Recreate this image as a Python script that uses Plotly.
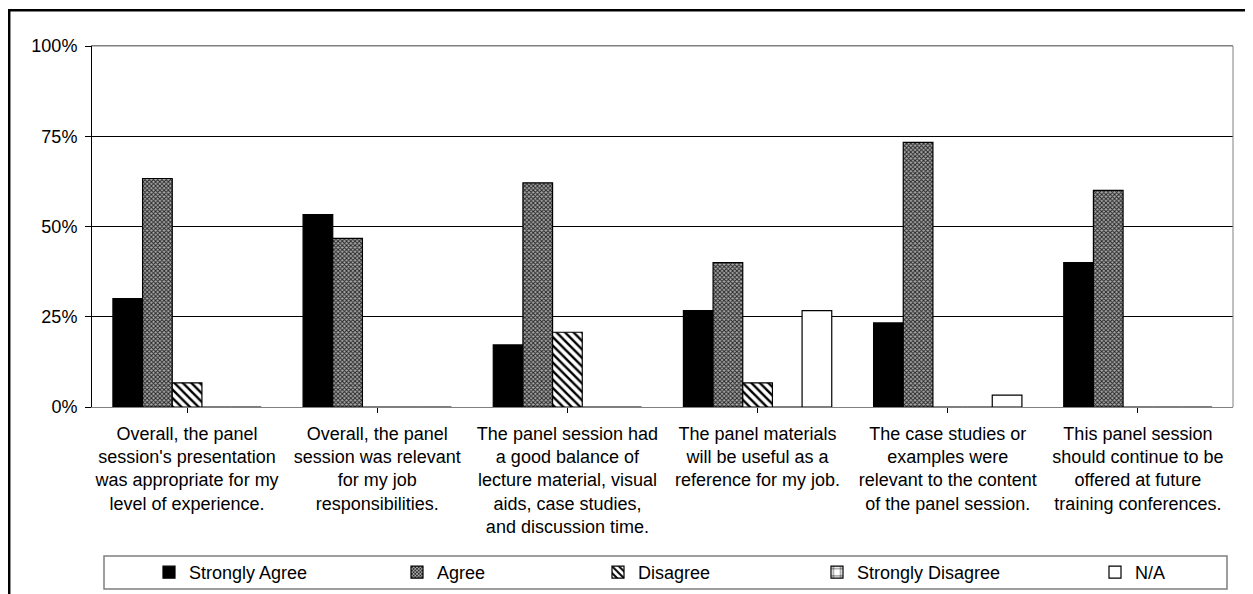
import plotly.graph_objects as go

categories = [
    "Overall, the panel<br>session's presentation<br>was appropriate for my<br>level of experience.",
    "Overall, the panel<br>session was relevant<br>for my job<br>responsibilities.",
    "The panel session had<br>a good balance of<br>lecture material, visual<br>aids, case studies,<br>and discussion time.",
    "The panel materials<br>will be useful as a<br>reference for my job.",
    "The case studies or<br>examples were<br>relevant to the content<br>of the panel session.",
    "This panel session<br>should continue to be<br>offered at future<br>training conferences.",
]
series_names = ["Strongly Agree", "Agree", "Disagree", "Strongly Disagree", "N/A"]
strongly_agree = [0.300, 0.533, 0.172, 0.267, 0.233, 0.400]
agree = [0.633, 0.467, 0.621, 0.400, 0.733, 0.600]
disagree = [0.067, 0.0, 0.207, 0.067, 0.0, 0.0]
strongly_disagree = [0.0, 0.0, 0.0, 0.0, 0.0, 0.0]
na = [0.0, 0.0, 0.0, 0.267, 0.033, 0.0]
y_ticks = [0, 0.25, 0.5, 0.75, 1.0]
y_tick_labels = ["0%", "25%", "50%", "75%", "100%"]

FONT = "Liberation Sans, Arial, sans-serif"
OFF = 8  # page body margin of the browser
W, H = 1253 - OFF, 594 - OFF
ML, MR, MT, MB = 92 - OFF, 20, 46 - OFF, 187
PW = W - ML - MR
PH = H - MT - MB


def px_x(px):
    return (px - OFF - ML) / PW


def px_y(py):
    return (H - MB - (py - OFF)) / PH


x_idx = list(range(len(categories)))
values = [strongly_agree, agree, disagree, strongly_disagree, na]
styles = [
    dict(color="#000000", pattern=dict(shape="")),
    dict(color="#8c8c8c", pattern=dict(shape="x", size=3, solidity=0.55,
                                       fgcolor="#262626", bgcolor="#aaaaaa", fillmode="replace")),
    dict(color="#ffffff", pattern=dict(shape="\\", size=6, solidity=0.4,
                                       fgcolor="#000000", bgcolor="#ffffff", fillmode="replace")),
    dict(color="#ffffff", pattern=dict(shape="+", size=9, solidity=0.15,
                                       fgcolor="#000000", bgcolor="#ffffff", fillmode="replace")),
    dict(color="#ffffff", pattern=dict(shape="")),
]
legend_text_left = [189, 437, 638, 857, 1135]

fig = go.Figure()
for i, (name, vals, st) in enumerate(zip(series_names, values, styles)):
    fig.add_trace(go.Bar(
        x=x_idx, y=vals, name=name,
        marker=dict(color=st["color"], pattern=st["pattern"],
                    line=dict(color="#000000", width=1.2)),
        legend="legend" if i == 0 else f"legend{i + 1}",
        hoverinfo="skip",
    ))

legend_y_container = 1 - ((556 + 589) / 2 - OFF) / H
legend_layouts = {}
for i, tl in enumerate(legend_text_left):
    key = "legend" if i == 0 else f"legend{i + 1}"
    legend_layouts[key] = dict(
        x=px_x(tl - 40), xanchor="left", xref="paper",
        y=legend_y_container, yanchor="middle", yref="container",
        orientation="h", bgcolor="rgba(0,0,0,0)", borderwidth=0,
        font=dict(family=FONT, size=18, color="#000000"),
        itemwidth=30,
    )

fig.update_layout(
    width=W, height=H,
    margin=dict(l=ML, r=MR, t=MT, b=MB, pad=0, autoexpand=False),
    paper_bgcolor="#ffffff", plot_bgcolor="#ffffff",
    barmode="group", bargap=0.22, bargroupgap=0,
    showlegend=True,
    font=dict(family=FONT, size=18, color="#000000"),
    **legend_layouts,
)
fig.update_xaxes(
    tickmode="array", tickvals=x_idx, ticktext=categories,
    range=[-0.5, len(categories) - 0.5],
    tickson="boundaries", ticks="outside", ticklen=5, tickcolor="#000000",
    ticklabelstandoff=5,
    showline=True, linecolor="#808080", linewidth=1, mirror=True,
    showgrid=False, zeroline=False,
    tickfont=dict(family=FONT, size=18, color="#000000"),
    fixedrange=True, automargin=False,
)
fig.update_yaxes(
    range=[0, 1], tickmode="array", tickvals=y_ticks, ticktext=y_tick_labels,
    ticks="outside", ticklen=6, tickcolor="#000000",
    ticklabelstandoff=4,
    showline=True, linecolor="#000000", linewidth=1,
    showgrid=True, gridcolor="#000000", gridwidth=1,
    zeroline=False,
    tickfont=dict(family=FONT, size=18, color="#000000"),
    fixedrange=True, automargin=False,
)
fig.add_shape(type="line", xref="paper", yref="paper", x0=1, x1=1, y0=0, y1=1,
              line=dict(color="#808080", width=1))
fig.add_shape(type="line", xref="paper", yref="paper", x0=0, x1=1, y0=1, y1=1,
              line=dict(color="#808080", width=1))
# legend frame
fig.add_shape(type="rect", xref="paper", yref="paper",
              x0=px_x(104), x1=px_x(1227), y0=px_y(589), y1=px_y(556),
              line=dict(color="#7f7f7f", width=1.5), fillcolor="rgba(0,0,0,0)", layer="below")
# outer chart frame
fig.add_shape(type="rect", xref="paper", yref="paper",
              x0=px_x(9.2), x1=px_x(1300), y0=px_y(700), y1=px_y(10.2),
              line=dict(color="#000000", width=2.5), fillcolor="rgba(0,0,0,0)", layer="below")

fig.write_html("out.html")
